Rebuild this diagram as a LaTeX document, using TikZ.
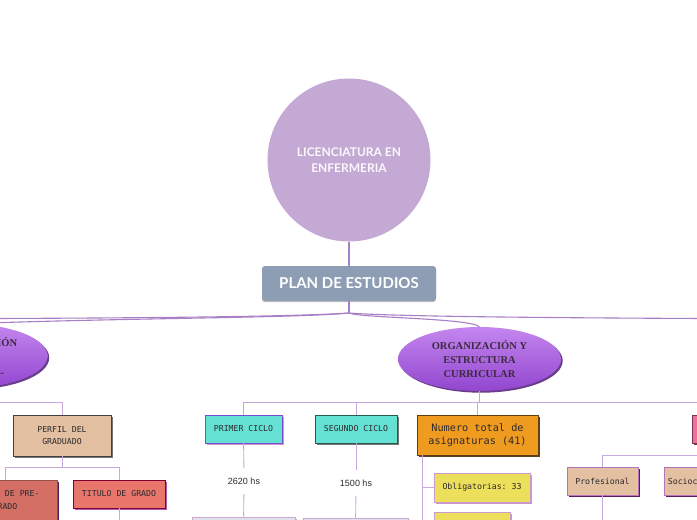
\documentclass[tikz,border=0pt]{standalone}
\usepackage{fontspec}
\setmainfont{Liberation Serif}
\setsansfont{Liberation Sans}
\setmonofont{DejaVu Sans Mono}
\newfontfamily\latofont{Lato}
\usetikzlibrary{shapes.geometric,shadows}
\definecolor{circc}{HTML}{C3A9D4}
\definecolor{planc}{HTML}{8C9DB4}
\definecolor{elltop}{HTML}{C486EF}
\definecolor{ellbot}{HTML}{9246CF}
\definecolor{elltext}{HTML}{3B2A3F}
\definecolor{conn}{HTML}{C8A8DA}
\definecolor{topconn}{HTML}{A87FC6}
\definecolor{beige}{HTML}{E2C0A1}
\definecolor{redd}{HTML}{D36F64}
\definecolor{redl}{HTML}{E8766B}
\definecolor{teal}{HTML}{64E1D3}
\definecolor{orng}{HTML}{EF9B20}
\definecolor{yell}{HTML}{ECDF5B}
\definecolor{pinkc}{HTML}{F26C9C}
\definecolor{grayb}{HTML}{DCE4EA}
\definecolor{txt}{HTML}{2E2A2E}
\tikzset{
  x=1pt, y=-1pt,
  conline/.style={draw=conn, line width=0.9pt},
  topline/.style={draw=topconn, line width=1.1pt},
  boxbase/.style={rectangle, inner sep=0pt, align=center, text=txt,
    font=\ttfamily\fontsize{8.2}{12.5}\selectfont, line width=0.8pt},
  sh/.style={drop shadow={shadow xshift=1.7pt, shadow yshift=-1.7pt, opacity=0.9, fill=#1}},
  ellnode/.style={ellipse, minimum width=163pt, minimum height=64pt, inner sep=0pt,
    top color=elltop, bottom color=ellbot, align=center, text=elltext,
    font=\bfseries\fontsize{10.5}{14}\selectfont},
}
\begin{document}
\begin{tikzpicture}
\useasboundingbox (0,0) rectangle (697,520);
\fill[white] (0,0) rectangle (697,520);
\clip (0,0) rectangle (697,520);

% main nodes
\node[circle, fill=circc, minimum size=163pt, inner sep=0pt, align=center,
  text=white!93!circc, font=\latofont\bfseries\fontsize{12}{16}\selectfont] (lic) at (349,160)
  {LICENCIATURA EN\\ENFERMERIA};
\node[rectangle, rounded corners=3pt, fill=planc, minimum width=174pt, minimum height=35pt,
  inner sep=0pt, text=white, font=\latofont\bfseries\fontsize{15}{17}\selectfont,
  drop shadow={shadow xshift=0pt, shadow yshift=-1.2pt, opacity=0.25, fill=black}] (plan) at (349,283.5)
  {PLAN DE ESTUDIOS};
\draw[topline] (lic) -- (plan);
\coordinate (j) at (349,313);
\draw[topline] (plan.south) -- (j);

% ellipses
\node[ellnode, sh=ellbot!60!black] (fund) at (-34,356) {FUNDAMENTACIÓN\\DEL\\PROFESIONAL};
\node[ellnode, sh=ellbot!60!black] (org) at (479.5,359) {ORGANIZACIÓN Y\\ESTRUCTURA\\CURRICULAR};

% free ends
\coordinate (offL) at (-5,318.5);
\coordinate (offR) at (702,318.5);

% top curves
\draw[topline] (j) .. controls (300,318) and (120,318) .. (fund.north);
\draw[topline] (j) .. controls (290,317) and (120,318) .. (offL);
\draw[topline] (j) .. controls (400,317) and (600,318) .. (offR);
\draw[topline] (j) .. controls (360,318) and (470,318) .. (org.north);

% left branch
\node[boxbase, fill=beige, draw=black!75, sh=black!60, minimum width=98pt, minimum height=41pt] (perfil) at (62,435.5) {PERFIL DEL\\GRADUADO};
\node[boxbase, fill=redd, draw=redd!70!black, sh=violet!50!black, minimum width=104pt, minimum height=40pt] (pre) at (5,500) {TITULO DE PRE-\\GRADO};
\node[boxbase, fill=redl, draw=violet!60!red!70!black, sh=violet!70!white, minimum width=92pt, minimum height=28pt] (tit) at (119,494) {TITULO DE GRADO};
\coordinate (titend) at (119,525);

\draw[conline] (fund.south) -- ++(0,14) -| (perfil.north);
\draw[conline] (perfil.south) -- ++(0,11) -| (pre.north);
\draw[conline] (perfil.south) -- ++(0,11) -| (tit.north);
\draw[conline] (tit.south) -- (titend);

% org branch
\node[boxbase, fill=teal, draw=violet!50!blue!70!white, sh=violet!45!white, minimum width=77pt, minimum height=28pt] (primer) at (243.5,429) {PRIMER CICLO};
\node[boxbase, fill=teal, draw=teal!40!black, sh=black!60, minimum width=82pt, minimum height=28pt] (segundo) at (356,429) {SEGUNDO CICLO};
\node[boxbase, fill=orng, draw=orng!40!black, sh=orng!30!black, minimum width=121pt, minimum height=40pt,
  font=\ttfamily\fontsize{10.2}{13}\selectfont] (num) at (477.5,435) {Numero total de\\asignaturas (41)};
\node[boxbase, fill=pinkc, draw=pinkc!50!black, sh=pinkc!40!black, minimum width=90pt, minimum height=28pt] (pink) at (737,429) {};

\node[font=\sffamily\fontsize{9}{10}\selectfont, text=txt, minimum height=26pt, inner sep=0pt] (h1) at (244,481) {2620 hs};
\node[font=\sffamily\fontsize{9}{10}\selectfont, text=txt, minimum height=26pt, inner sep=0pt] (h2) at (356,483) {1500 hs};
\node[boxbase, fill=grayb, draw=violet!35!white, sh=violet!40!white, minimum width=103pt, minimum height=30pt] (c1) at (243.5,532) {};
\node[boxbase, fill=grayb, draw=violet!35!white, sh=violet!40!white, minimum width=105pt, minimum height=30pt] (c2) at (355.5,533) {};

\node[boxbase, fill=yell, draw=violet!40!white, sh=violet!45!white, minimum width=96pt, minimum height=29pt] (obl) at (482,487.5) {Obligatorias: 33};
\node[boxbase, fill=yell, draw=violet!40!white, sh=violet!45!white, minimum width=76pt, minimum height=36pt] (y2) at (472,530) {};

\node[boxbase, fill=beige, draw=violet!55!white, sh=violet!60!black, minimum width=71pt, minimum height=28pt] (prof) at (602.5,481) {Profesional};
\node[boxbase, fill=beige, draw=violet!55!white, sh=violet!60!black, minimum width=72pt, minimum height=28pt] (soc) at (700,481) {Sociocultural};
\coordinate (profend) at (602.5,525);

\draw[conline] (org.south) -- ++(0,11) -| (primer.north);
\draw[conline] (org.south) -- ++(0,11) -| (segundo.north);
\draw[conline] (org.south) -- ++(0,11) -| (num.north);
\draw[conline] (org.south) -- ++(0,11) -| (pink.north);

\draw[conline] (primer) -- (h1);
\draw[conline] (h1) -- (c1);
\draw[conline] (segundo) -- (h2);
\draw[conline] (h2) -- (c2);

\draw[conline] ([xshift=-55.5pt]num.south) |- (obl.west);
\draw[conline] ([xshift=-55.5pt]num.south) |- (y2.west);

\draw[conline] (pink.south) -- ++(0,12) -| (prof.north);
\draw[conline] (pink.south) -- ++(0,12) -| (soc.north);
\draw[conline] (prof.south) -- (profend);
\end{tikzpicture}
\end{document}
